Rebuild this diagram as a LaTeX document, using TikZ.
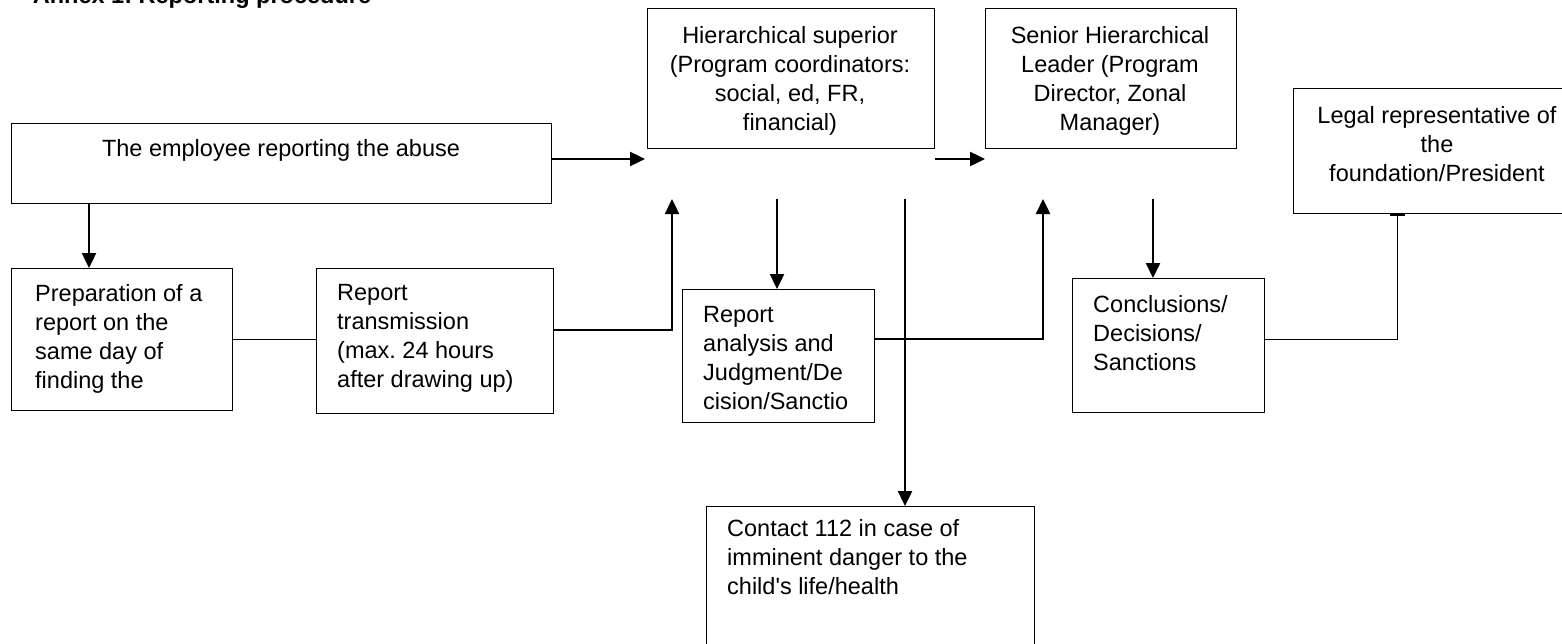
\documentclass[tikz,border=0pt]{standalone}
\usepackage{fontspec}
\setmainfont{Liberation Sans}
\usetikzlibrary{arrows.meta}
\frenchspacing
\tikzset{
  box/.style={draw, line width=1.4pt, inner sep=0pt, anchor=north west},
  txt/.style={inner sep=0pt, font=\fontsize{23.5pt}{29pt}\selectfont},
  txtl/.style={txt, anchor=north west, align=left},
  txtc/.style={txt, anchor=north, align=center},
  arr/.style={-{Triangle[length=15pt,width=14pt]}, line width=2.4pt},
  ln/.style={line width=1.5pt}
}
\begin{document}
\begin{tikzpicture}[x=1pt,y=-1pt]
\clip (0,0) rectangle (1562,643);
\fill[white] (0,0) rectangle (1562,643);
% title (cut off at the top)
\node[txt, anchor=base, font=\fontsize{23.5pt}{29pt}\selectfont\bfseries] (title) at (202,3) {Annex 1: Reporting procedure};
% boxes
\node[box, minimum width=540pt, minimum height=80pt] (emp) at (11,123) {};
\node[box, minimum width=287pt, minimum height=140pt] (hier) at (647,8) {};
\node[box, minimum width=251pt, minimum height=140pt] (sen) at (985,8) {};
\node[box, minimum width=288pt, minimum height=125pt] (legal) at (1293,88) {};
\node[box, minimum width=221pt, minimum height=142pt] (prep) at (11,268) {};
\node[box, minimum width=237pt, minimum height=145pt] (trans) at (316,268) {};
\node[box, minimum width=192pt, minimum height=133pt] (ana) at (682,289) {};
\node[box, minimum width=192pt, minimum height=134pt] (concl) at (1072,278) {};
\node[box, minimum width=328pt, minimum height=160pt] (cont) at (706,506) {};
% texts
\node[txtc] (empt) at (281,139) {The employee reporting the abuse};
\node[txtc] (hiert) at (790,26) {Hierarchical superior\\(Program coordinators:\\social, ed, FR,\\financial)};
\node[txtc] (sent) at (1110,26) {Senior Hierarchical\\Leader (Program\\Director, Zonal\\Manager)};
\node[txtc] (legalt) at (1437,106) {Legal representative of\\the\\foundation/President};
\node[txtl] (prept) at (35,284) {Preparation of a\\report on the\\same day of\\finding the};
\node[txtl] (transt) at (337,284) {Report\\transmission\\(max. 24 hours\\after drawing up)};
\node[txtl] (anat) at (703,306) {Report\\analysis and\\Judgment/De\\cision/Sanctio};
\node[txtl] (conclt) at (1093,295) {Conclusions/\\Decisions/\\Sanctions};
\node[txtl] (contt) at (727,519) {Contact 112 in case of\\imminent danger to the\\child\textquotesingle s life/health};
% free connector ends
\coordinate (a1) at (645,159);
\coordinate (a2) at (89,0);
\coordinate (h1) at (672,199);
\coordinate (h2) at (777,199);
\coordinate (h3) at (905,199);
\coordinate (s1) at (985,159);
\coordinate (s2) at (1043,199);
\coordinate (s3) at (1153,199);
% connectors
\draw[arr] (a1 -| emp.east) -- (a1);
\draw[arr] (emp.south -| a2) -- (prep.north -| a2);
\draw[ln] (prep.east) -- (prep.east -| trans.west);
\draw[arr] ([yshift=11pt]trans.east) -| (h1);
\draw[arr] (h2) -- (h2 |- ana.north);
\draw[arr] (h3) -- (h3 |- cont.north);
\draw[arr] (a1 -| hier.east) -- (s1);
\draw[arr] ([yshift=17pt]ana.east) -| (s2);
\draw[arr] (s3) -- (s3 |- concl.north);
\draw[ln, -{Bar[width=15pt]}] ([yshift=6pt]concl.east) -| ([xshift=-40pt]legal.south);
\end{tikzpicture}
\end{document}
